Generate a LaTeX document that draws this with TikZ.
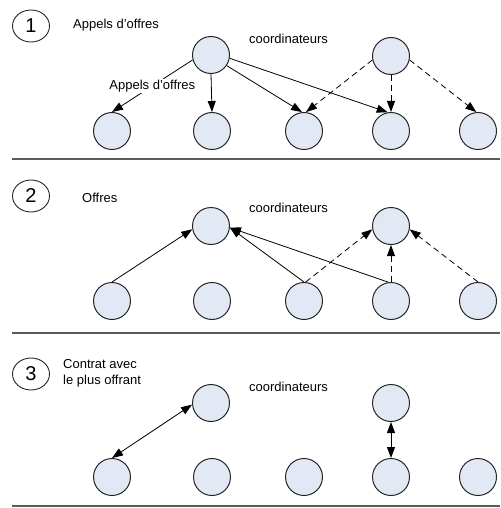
\documentclass[tikz,border=0pt]{standalone}
\usepackage{fontspec}
\setmainfont{Liberation Sans}
\usetikzlibrary{arrows.meta,shapes.geometric}
\definecolor{nodefill}{HTML}{E2E9F5}
\definecolor{divgray}{HTML}{5A5A5A}
\begin{document}
\begin{tikzpicture}[x=1pt,y=-1pt,
 agent/.style={circle,draw=black!85,fill=nodefill,line width=1pt,minimum size=37pt,inner sep=0pt},
 num/.style={ellipse,draw=black!85,line width=0.9pt,minimum width=37pt,minimum height=32pt,inner sep=0pt,font=\fontsize{20}{20}\selectfont},
 lbl/.style={font=\fontsize{13}{16}\selectfont,inner sep=0pt,anchor=west},
 conn/.style={-{Triangle[length=11pt,width=8pt]},line width=0.8pt},
 dconn/.style={conn,dash pattern=on 6pt off 4pt},
 twoway/.style={{Triangle[length=11pt,width=8pt]}-{Triangle[length=11pt,width=8pt]},line width=0.8pt},
 divider/.style={line width=2.2pt,draw=divgray}]
\useasboundingbox (0,0) rectangle (500,508);

% ---------- Section 1 ----------
\node[num] (n1) at (31,26) {1};
\node[lbl] (t1) at (73,25) {Appels d'offres};
\node[lbl] (k1) at (249,39) {coordinateurs};
\node[agent] (a1) at (211,55) {};
\node[agent] (a2) at (391,56) {};
\node[agent] (b11) at (112,131) {};
\node[agent] (b12) at (212,131) {};
\node[agent] (b13) at (304,131) {};
\node[agent] (b14) at (391,131) {};
\node[agent] (b15) at (478,131) {};

\draw[conn] (a1.195) -- node[pos=0.5,fill=white,inner sep=1pt,font=\fontsize{13}{16}\selectfont] (l1) {Appels d'offres} (b11.north);
\draw[conn] (a1.south) -- (b12.north);
\draw[conn] (a1.-34) -- (b13.96);
\draw[conn] (a1.-10) -- (b14.100);
\draw[dconn] (a2.192) -- (b13.84);
\draw[dconn] (a2.south) -- (b14.north);
\draw[dconn] (a2.-12) -- (b15.95);

\draw[divider] (12,159) -- (500,159);

% ---------- Section 2 ----------
\node[num] (n2) at (31,196) {2};
\node[lbl] (t2) at (82,198) {Offres};
\node[lbl] (k2) at (249,208) {coordinateurs};
\node[agent] (c21) at (211,226) {};
\node[agent] (c22) at (391,226) {};
\node[agent] (b21) at (112,301) {};
\node[agent] (b22) at (212,301) {};
\node[agent] (b23) at (304,301) {};
\node[agent] (b24) at (391,301) {};
\node[agent] (b25) at (478,301) {};

\draw[conn] (b21.north) -- (c21.190);
\draw[conn] (b23.north) -- (c21.-5);
\draw[conn] (b24.98) -- (c21.-5);
\draw[dconn] (b23.85) -- (c22.190);
\draw[dconn] (b24.north) -- (c22.south);
\draw[dconn] (b25.north) -- (c22.-10);

\draw[divider] (12,333) -- (500,333);

% ---------- Section 3 ----------
\node[num] (n3) at (31,374) {3};
\node[lbl,align=left] (t3) at (63,373) {Contrat avec\\le plus offrant};
\node[lbl] (k3) at (249,387) {coordinateurs};
\node[agent] (c31) at (211,403) {};
\node[agent] (c32) at (391,403) {};
\node[agent] (b31) at (112,477) {};
\node[agent] (b32) at (212,477) {};
\node[agent] (b33) at (304,477) {};
\node[agent] (b34) at (391,477) {};
\node[agent] (b35) at (478,477) {};

\draw[twoway] (c31.185) -- (b31.north);
\draw[twoway] (c32.south) -- (b34.north);

\draw[divider] (12,506) -- (500,506);
\end{tikzpicture}
\end{document}
